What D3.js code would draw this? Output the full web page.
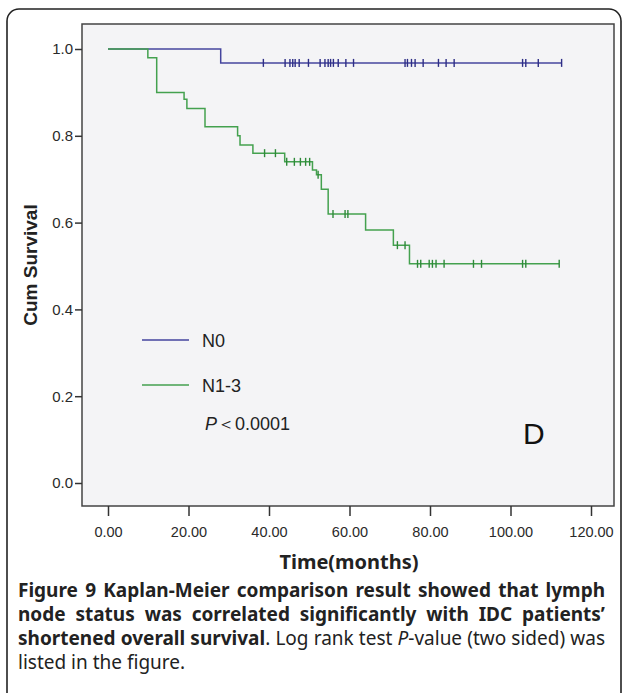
<!DOCTYPE html>
<html>
<head>
<meta charset="utf-8">
<script src="https://cdn.jsdelivr.net/npm/d3@7"></script>
<style>
  html, body { margin: 0; padding: 0; background: #fff; }
  svg { display: block; }
</style>
</head>
<body>
<div id="chart"></div>
<script>
// Kaplan-Meier steps (time in months, cumulative survival)
const n0Times = [0, 28.0];
const n0Surv = [1.0, 0.968];
const n0Censor = [38.6, 44.0, 45.2, 45.9, 46.5, 47.5, 49.8, 52.7, 53.9, 54.7, 55.3, 56.0, 57.2, 59.1, 61.0,
  73.8, 74.4, 75.4, 76.3, 78.3, 82.1, 84.0, 86.0, 103.0, 103.8, 106.9, 112.7];

const n13Times = [0, 9.9, 12.1, 18.9, 19.6, 24.1, 32.2, 32.8, 36.0, 43.9, 50.8, 51.8, 53.0, 54.7, 64.0, 70.9, 74.9];
const n13Surv = [1.0, 0.98, 0.90, 0.884, 0.863, 0.821, 0.80, 0.779, 0.76, 0.74, 0.721, 0.71, 0.677, 0.62, 0.583, 0.548, 0.505];
const n13Censor = [38.9, 41.6, 44.4, 46.3, 47.8, 49.1, 50.1, 52.2, 55.9, 58.9, 59.6, 71.9, 73.8,
  76.9, 77.7, 79.8, 80.6, 81.5, 83.5, 90.8, 92.8, 103.0, 103.8, 112.1];

const xTicks = [0, 20, 40, 60, 80, 100, 120];
const yTicks = [0, 0.2, 0.4, 0.6, 0.8, 1.0];

const groups = [
  { name: "N0", times: n0Times, surv: n0Surv, censor: n0Censor, color: "#45459e", mark: "#2e2e86" },
  { name: "N1-3", times: n13Times, surv: n13Surv, censor: n13Censor, color: "#44a14f", mark: "#2f8a3a" }
];

const captionLines = [
  [{ t: "Figure 9 Kaplan-Meier comparison result showed that lymph", w: "bold" }],
  [{ t: "node status was correlated significantly with IDC patients\u2019", w: "bold" }],
  [{ t: "shortened overall survival", w: "bold" }, { t: ". Log rank test " }, { t: "P", s: "italic" }, { t: "-value (two sided) was" }],
  [{ t: "listed in the figure." }]
];

const W = 624, H = 693;
const plot = { left: 82, top: 24, right: 614, bottom: 506 };

const svg = d3.select("#chart").append("svg")
  .attr("width", W)
  .attr("height", H);

// outer frame (rounded, runs off the bottom)
svg.append("rect")
  .attr("x", 7).attr("y", 9)
  .attr("width", 614).attr("height", 720)
  .attr("rx", 12)
  .attr("fill", "none")
  .attr("stroke", "#222")
  .attr("stroke-width", 1.6);

// plot background
svg.append("rect")
  .attr("x", plot.left).attr("y", plot.top)
  .attr("width", plot.right - plot.left).attr("height", plot.bottom - plot.top)
  .attr("fill", "#f4f4f6")
  .attr("stroke", "#444")
  .attr("stroke-width", 1.5);

const x = d3.scaleLinear().domain([0, 120]).range([108, 591]);
const y = d3.scaleLinear().domain([0, 1]).range([483, 49]);

// axes
const xAxis = svg.append("g")
  .attr("transform", `translate(0, ${plot.bottom})`)
  .call(d3.axisBottom(x).tickValues(xTicks).tickFormat(d3.format(".2f")).tickSize(10).tickSizeOuter(0));
xAxis.select(".domain").remove();
xAxis.selectAll("line").attr("stroke", "#333").attr("stroke-width", 1.5);
xAxis.selectAll("text")
  .attr("y", 21)
  .attr("font-family", "Liberation Sans, Arial, sans-serif")
  .attr("font-size", 14.5)
  .attr("fill", "#2a2a2a");

const yAxis = svg.append("g")
  .attr("transform", `translate(${plot.left}, 0)`)
  .call(d3.axisLeft(y).tickValues(yTicks).tickFormat(d3.format(".1f")).tickSize(7).tickSizeOuter(0));
yAxis.select(".domain").remove();
yAxis.selectAll("line").attr("stroke", "#333").attr("stroke-width", 1.5);
yAxis.selectAll("text")
  .attr("x", -9)
  .attr("font-family", "Liberation Sans, Arial, sans-serif")
  .attr("font-size", 15)
  .attr("fill", "#2a2a2a");

// survival step functions
const stepAt = (g, t) => {
  let s = g.surv[0];
  g.times.forEach((tt, i) => { if (tt <= t) s = g.surv[i]; });
  return s;
};

const line = d3.line()
  .x(d => x(d[0]))
  .y(d => y(d[1]))
  .curve(d3.curveStepAfter);

groups.forEach(g => {
  const pts = g.times.map((t, i) => [t, g.surv[i]]);
  pts.push([d3.max(g.censor), g.surv[g.surv.length - 1]]);
  svg.append("path")
    .datum(pts)
    .attr("d", line)
    .attr("fill", "none")
    .attr("stroke", g.color)
    .attr("stroke-width", 1.5);

  svg.append("g").selectAll("line")
    .data(g.censor)
    .enter()
    .append("line")
    .attr("x1", d => x(d)).attr("x2", d => x(d))
    .attr("y1", d => y(stepAt(g, d)) - 4)
    .attr("y2", d => y(stepAt(g, d)) + 4)
    .attr("stroke", g.mark)
    .attr("stroke-width", 1.4);
});

// legend
const legend = svg.append("g").attr("font-family", "Liberation Sans, Arial, sans-serif");
groups.forEach((g, i) => {
  const ly = 340 + i * 45;
  legend.append("line")
    .attr("x1", 142).attr("x2", 189)
    .attr("y1", ly).attr("y2", ly)
    .attr("stroke", g.color).attr("stroke-width", 1.7);
  legend.append("text")
    .attr("x", 202).attr("y", ly + 7)
    .attr("font-size", 18)
    .attr("fill", "#222")
    .text(g.name);
});
const pText = legend.append("text")
  .attr("x", 205).attr("y", 430)
  .attr("font-size", 18)
  .attr("fill", "#222");
pText.append("tspan").attr("font-style", "italic").text("P");
pText.append("tspan").text("\uFF1C0.0001");

svg.append("text")
  .attr("x", 523).attr("y", 444)
  .attr("font-family", "Liberation Sans, Arial, sans-serif")
  .attr("font-size", 30)
  .attr("fill", "#111")
  .text("D");

// axis titles
svg.append("text")
  .attr("transform", "translate(37, 265) rotate(-90)")
  .attr("text-anchor", "middle")
  .attr("font-family", "Liberation Sans, Arial, sans-serif")
  .attr("font-weight", "bold")
  .attr("font-size", 19)
  .attr("fill", "#222")
  .text("Cum Survival");

svg.append("text")
  .attr("x", 349).attr("y", 569)
  .attr("text-anchor", "middle")
  .attr("font-family", "Noto Sans, Open Sans, sans-serif")
  .attr("font-weight", "bold")
  .attr("font-size", 20)
  .attr("fill", "#222")
  .text("Time(months)");

// caption, justified with word spacing
const capW = 587;
captionLines.forEach((parts, i) => {
  const txt = svg.append("text")
    .attr("x", 18).attr("y", 597 + i * 24)
    .attr("font-family", "Noto Sans, Open Sans, sans-serif")
    .attr("font-size", 19)
    .attr("fill", "#222");
  parts.forEach(p => {
    txt.append("tspan")
      .attr("font-weight", p.w || "normal")
      .attr("font-style", p.s || "normal")
      .text(p.t);
  });
  if (i < captionLines.length - 1) {
    const full = parts.map(p => p.t).join("");
    const spaces = (full.match(/ /g) || []).length;
    const wNat = txt.node().getComputedTextLength();
    txt.attr("word-spacing", Math.max(0, (capW - wNat) / spaces));
  }
});
</script>
</body>
</html>
